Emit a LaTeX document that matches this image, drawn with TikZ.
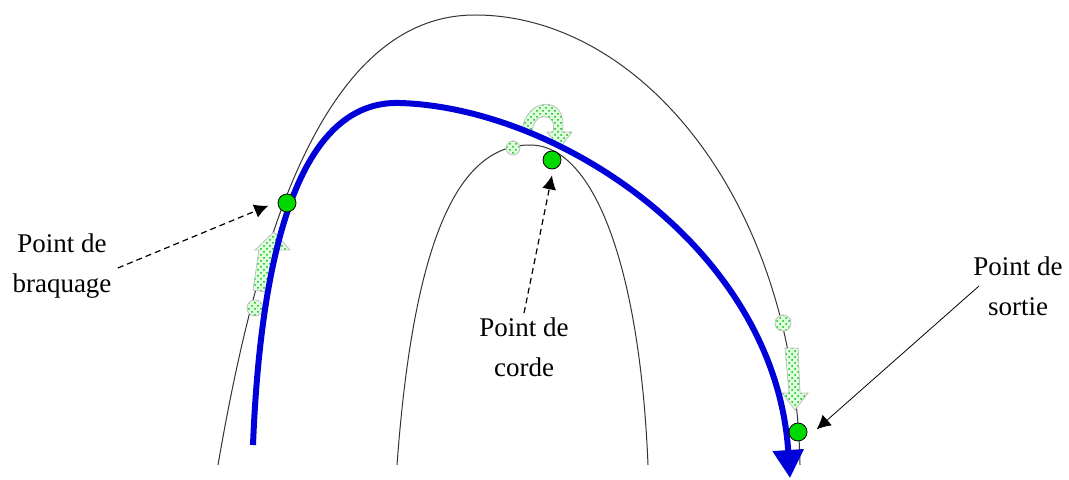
\documentclass[tikz,border=0pt]{standalone}
\usepackage{fontspec}
\setmainfont{Liberation Serif}
\usetikzlibrary{arrows.meta,patterns}
\tikzstyle{lbl} = [align=center, font=\fontsize{13.5}{20}\selectfont, inner sep=1pt]
\tikzstyle{apex} = [circle, draw=black, fill=green!85!black, minimum size=9pt, inner sep=0pt]
\tikzstyle{ghost} = [draw=gray!50, preaction={fill=green!12}, pattern=crosshatch dots, pattern color=green!75!black]
\tikzstyle{lane} = [line width=0.5pt, black!80]
\tikzstyle{ptr} = [-{Latex[length=7pt,width=7pt]}, densely dashed, line width=0.6pt]
\tikzstyle{traj} = [-{Triangle[length=14pt,width=15pt]}, line width=3pt, blue!85!black]
\begin{document}
\begin{tikzpicture}[x=0.5pt, y=-0.5pt]
\useasboundingbox (0,0) rectangle (1069,480);
% road edges
\draw[lane] (218,465) .. controls (255,250) and (320,15) .. (475,15) .. controls (640,15) and (795,200) .. (800,465);
\draw[lane] (397,465) .. controls (415,220) and (465,145) .. (530,145) .. controls (595,145) and (640,270) .. (648,465);
% ghost marks
\draw[ghost] (255,308) circle (8);
\draw[ghost] (253,290) -- (259,250) -- (255,250) -- (274,232) -- (290,250) -- (275,250) -- (268,292) -- cycle;
\draw[ghost] (513,148) circle (7);
\draw[ghost] (522,132) .. controls (525,95) and (570,95) .. (562,132) -- (572,132) -- (560,148) -- (547,132) -- (553,132) .. controls (558,112) and (532,110) .. (532,134) -- cycle;
\draw[ghost] (783,323) circle (8);
\draw[ghost] (785,348) -- (798,348) -- (800,393) -- (808,393) -- (795,410) -- (782,393) -- (789,393) -- cycle;
% trajectory
\draw[traj] (253,445) .. controls (262,220) and (310,100) .. (400,103) .. controls (560,108) and (775,250) .. (790,478);
% key points
\node[apex] (turnin) at (287,203) {};
\node[apex] (apexpt) at (552,160) {};
\node[apex] (exit) at (798,432) {};
% labels
\node[lbl] (lturn) at (62,266) {Point de\\braquage};
\node[lbl] (lapex) at (524,347) {Point de\\corde};
\node[lbl] (lexit) at (1018,286) {Point de\\sortie};
\draw[ptr] ([xshift=2pt,yshift=-1pt]lturn.east) -- ([xshift=-6pt,yshift=2pt]turnin.south west);
\draw[ptr] ([yshift=1pt]lapex.north) -- ([yshift=-3pt]apexpt.south);
\draw[ptr, solid, line width=0.4pt] ([xshift=4pt]lexit.west) -- ([xshift=6pt,yshift=-2pt]exit.north east);
\end{tikzpicture}
\end{document}
